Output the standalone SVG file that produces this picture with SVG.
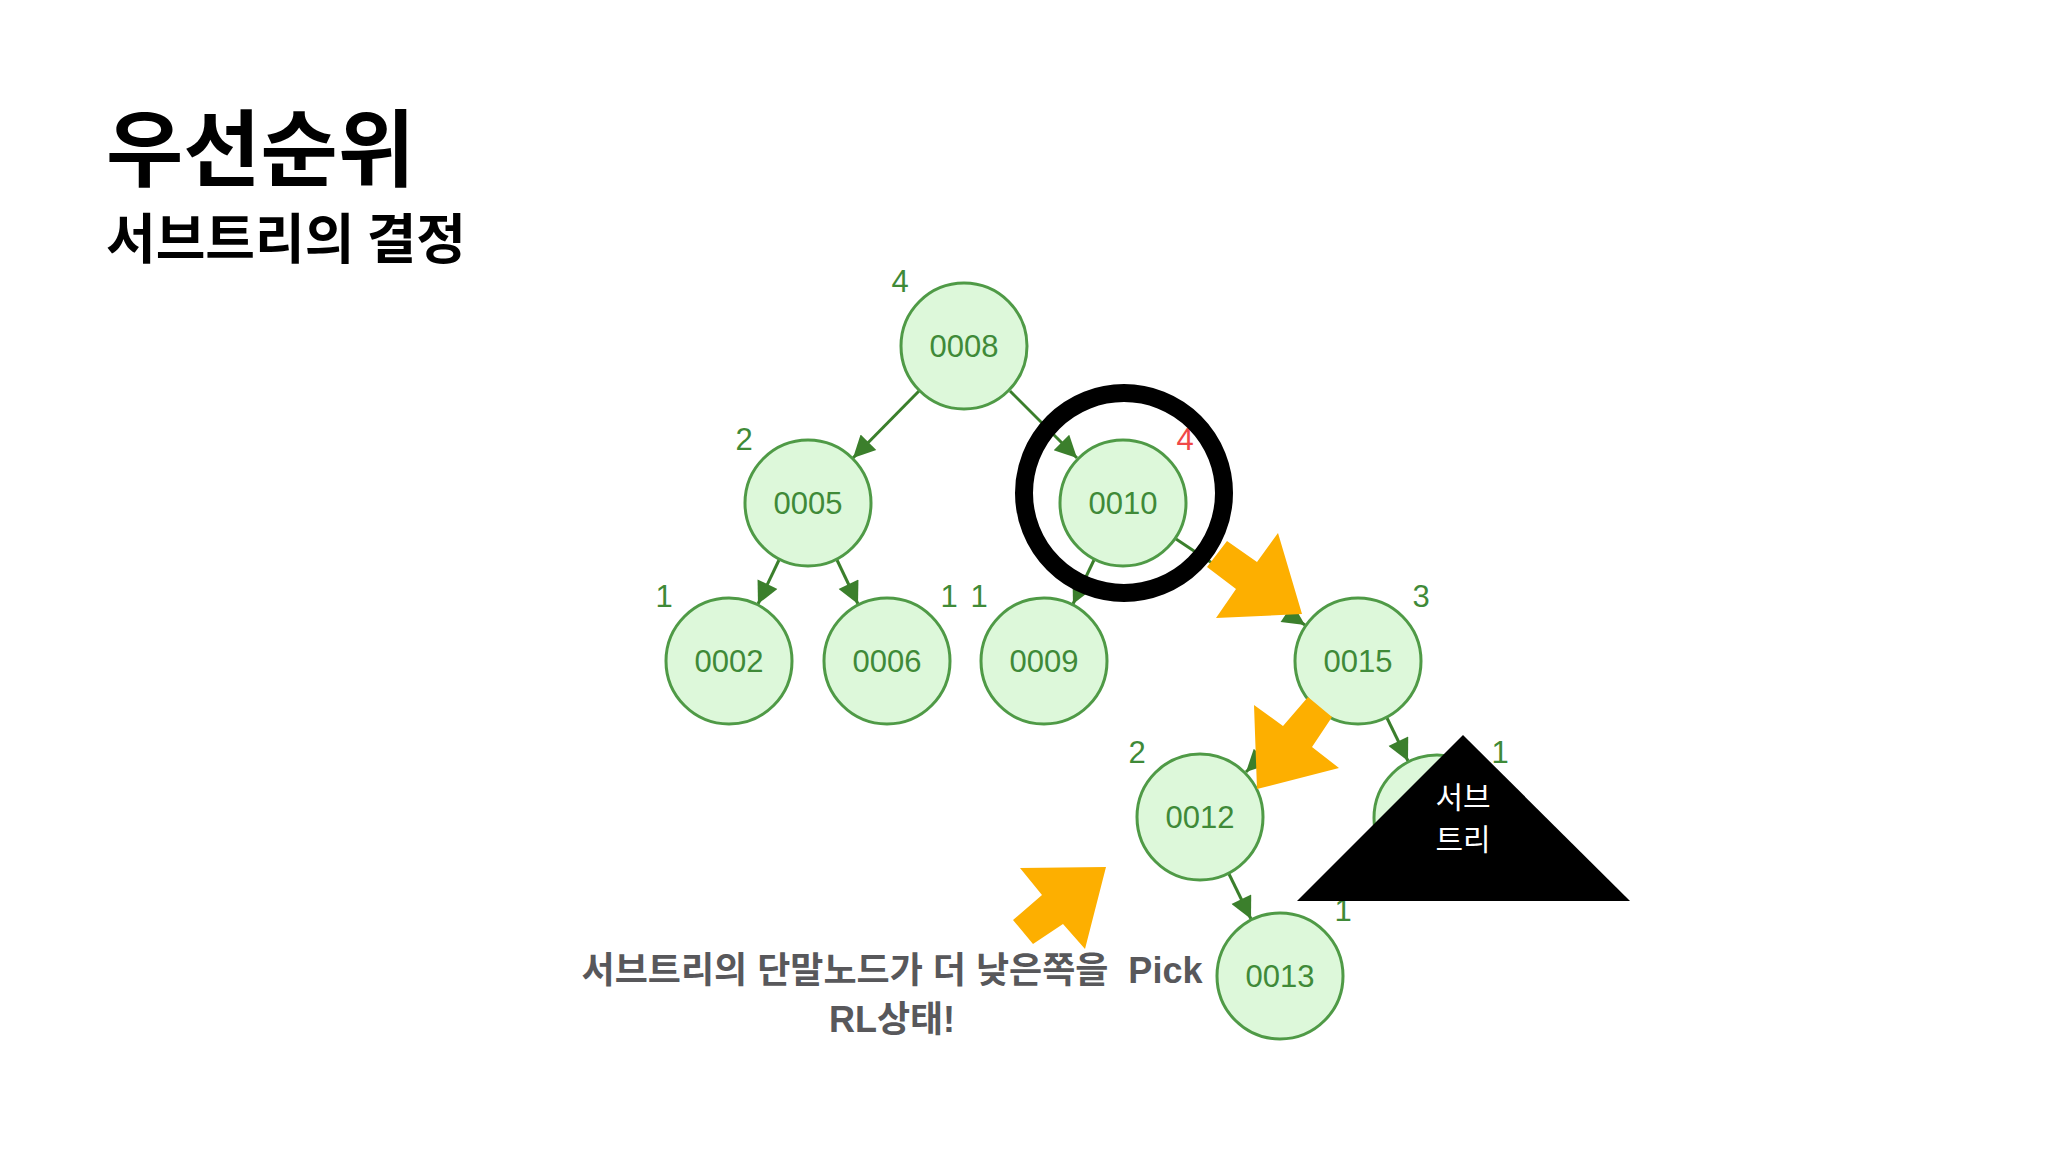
<svg xmlns="http://www.w3.org/2000/svg" width="2048" height="1152" viewBox="0 0 2048 1152">
<style>
.title{font-family:"Noto Sans CJK KR",sans-serif;font-weight:700;fill:#000}
.node circle{fill:#ddf8da;stroke:#4f9a46;stroke-width:3}
.node text{font-family:"Liberation Sans","DejaVu Sans",sans-serif;font-size:31px;fill:#3f8a38;text-anchor:middle}
.lbl{font-family:"Liberation Sans",sans-serif;font-size:24px;fill:#5a8f52;text-anchor:middle}
.edge{stroke:#3b7f2c;stroke-width:3;fill:none;marker-end:url(#ah)}
.orange{fill:#fdaf00}
.note{font-family:"Liberation Sans","Noto Sans CJK KR",sans-serif;font-weight:700;font-size:36px;fill:#58585b;text-anchor:middle}
.sub{font-family:"Noto Sans CJK KR",sans-serif;font-size:30px;fill:#fff;text-anchor:middle}
</style>
<defs>
<marker id="ah" viewBox="0 0 10 10" refX="10" refY="5" markerUnits="userSpaceOnUse" markerWidth="26" markerHeight="22" orient="auto">
<path d="M0,0 L10,5 L0,10 z" fill="#3b7f2c"/>
</marker>
</defs>
<rect width="2048" height="1152" fill="#fff"/>
<text class="title" x="106" y="180" font-size="84">우선순위</text>
<text class="title" x="106" y="259" font-size="54">서브트리의 결정</text>

<g id="connectors">
<line class="edge" x1="919" y1="391" x2="853" y2="458"/>
<line class="edge" x1="1010" y1="391" x2="1077" y2="458"/>
<line class="edge" x1="779" y1="560" x2="758" y2="604"/>
<line class="edge" x1="837" y1="560" x2="858" y2="604"/>
<line class="edge" x1="1094" y1="560" x2="1073" y2="604"/>
<line class="edge" x1="1176" y1="539" x2="1305" y2="625"/>
<line class="edge" x1="1312" y1="706" x2="1246" y2="772"/>
<line class="edge" x1="1387" y1="718" x2="1408" y2="761"/>
<line class="edge" x1="1229" y1="874" x2="1251" y2="919"/>
</g>

<g id="n0008" class="node"><circle cx="964" cy="346" r="63"/><text x="964" y="357">0008</text><text class="lbl" x="900" y="292">4</text></g>
<g id="n0005" class="node"><circle cx="808" cy="503" r="63"/><text x="808" y="514">0005</text><text class="lbl" x="744" y="450">2</text></g>
<g id="n0010" class="node"><circle cx="1123" cy="503" r="63"/><text x="1123" y="514">0010</text><text class="lbl" x="1185" y="450" style="fill:#f04848">4</text></g>
<g id="n0002" class="node"><circle cx="729" cy="661" r="63"/><text x="729" y="672">0002</text><text class="lbl" x="664" y="607">1</text></g>
<g id="n0006" class="node"><circle cx="887" cy="661" r="63"/><text x="887" y="672">0006</text><text class="lbl" x="949" y="607">1</text></g>
<g id="n0009" class="node"><circle cx="1044" cy="661" r="63"/><text x="1044" y="672">0009</text><text class="lbl" x="979" y="607">1</text></g>
<g id="n0015" class="node"><circle cx="1358" cy="661" r="63"/><text x="1358" y="672">0015</text><text class="lbl" x="1421" y="607">3</text></g>
<g id="n0012" class="node"><circle cx="1200" cy="817" r="63"/><text x="1200" y="828">0012</text><text class="lbl" x="1137" y="763">2</text></g>
<g id="nhidden" class="node"><circle cx="1437" cy="818" r="63"/><text class="lbl" x="1500" y="763">1</text></g>
<g id="n0013" class="node"><circle cx="1280" cy="976" r="63"/><text x="1280" y="987">0013</text><text class="lbl" x="1343" y="921">1</text></g>

<g id="highlight">
<polygon class="orange" points="1227,541 1257,562 1278,533 1302,614 1216,618 1236,589 1207,567"/>
<circle cx="1124" cy="493" r="100" fill="none" stroke="#000" stroke-width="18"/>
<polygon class="orange" points="1308,697 1332,717 1312,747 1339,768 1257,789 1254,705 1283,726"/>
<polygon class="orange" points="1106,867 1020,868 1042,895 1013,920 1033,944 1063,924 1085,949"/>
</g>

<g id="subtree">
<polygon points="1463,735 1297,901 1630,901" fill="#000"/>
<text class="sub" x="1463" y="808">서브</text>
<text class="sub" x="1463" y="850">트리</text>
</g>

<g id="note">
<text class="note" x="892" y="983" xml:space="preserve">서브트리의 단말노드가 더 낮은쪽을  Pick</text>
<text class="note" x="892" y="1032">RL상태!</text>
</g>
</svg>
